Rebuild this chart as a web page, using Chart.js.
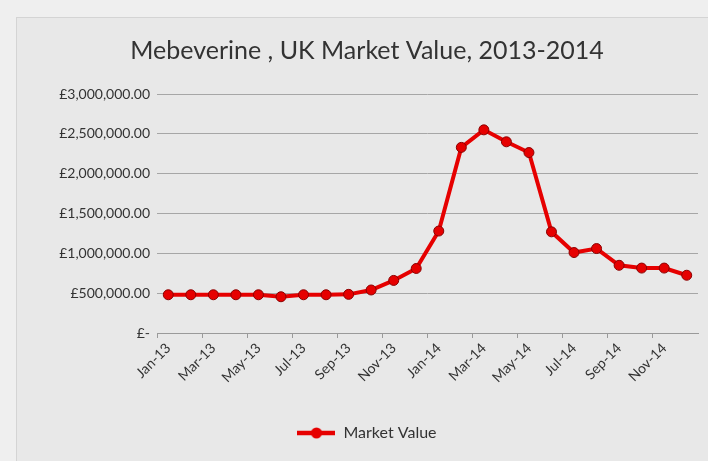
<!DOCTYPE html>
<html>
<head>
<meta charset="utf-8">
<script src="https://cdn.jsdelivr.net/npm/chart.js@4/dist/chart.umd.min.js"></script>
<style>
  html, body { margin: 0; padding: 0; background: #efefef; }
  #frame {
    position: absolute; left: 16px; top: 17px; width: 700px; height: 460px;
    background: #e8e8e8; border: 1px solid #d4d4d4;
  }
  #wrap { position: absolute; left: 0; top: 0; width: 708px; height: 461px; }
</style>
</head>
<body>
<div id="frame"></div>
<div id="wrap"><canvas id="myChart" width="708" height="461"></canvas></div>
<script>
let months = ["Jan-13", "Feb-13", "Mar-13", "Apr-13", "May-13", "Jun-13", "Jul-13", "Aug-13", "Sep-13", "Oct-13", "Nov-13", "Dec-13",
              "Jan-14", "Feb-14", "Mar-14", "Apr-14", "May-14", "Jun-14", "Jul-14", "Aug-14", "Sep-14", "Oct-14", "Nov-14", "Dec-14"];
let marketValue = [480000, 480000, 480000, 480000, 480000, 455000, 480000, 480000, 485000, 540000, 660000, 810000,
                   1280000, 2330000, 2550000, 2400000, 2265000, 1270000, 1010000, 1060000, 850000, 815000, 815000, 725000];
let yTicks = [0, 500000, 1000000, 1500000, 2000000, 2500000, 3000000];

const font = 'Lato, "Open Sans", sans-serif';
const red = '#e60000';

// legend marker: line with a dot
let marker = document.createElement('canvas');
marker.width = 38; marker.height = 12;
let mctx = marker.getContext('2d');
mctx.strokeStyle = red; mctx.lineWidth = 4.5;
mctx.beginPath(); mctx.moveTo(0, 6); mctx.lineTo(38, 6); mctx.stroke();
mctx.fillStyle = red;
mctx.beginPath(); mctx.arc(19, 6, 5.5, 0, Math.PI * 2); mctx.fill();

function money(v) {
    if (v === 0) return '£-';
    return '£' + v.toLocaleString('en-GB', {minimumFractionDigits: 2, maximumFractionDigits: 2});
}

let ctx = document.getElementById('myChart');
let myChart = new Chart(ctx, {
    type: 'line',
    data: {
        labels: months,
        datasets: [{
            label: 'Market Value',
            data: marketValue,
            borderColor: red,
            backgroundColor: red,
            borderWidth: 4,
            tension: 0,
            pointRadius: 5,
            pointBackgroundColor: red,
            pointBorderColor: '#8a0000',
            pointBorderWidth: 1
        }]
    },
    options: {
        responsive: false,
        animation: false,
        layout: { padding: { left: 36, right: 10, top: 0, bottom: 10 } },
        plugins: {
            title: {
                display: true,
                text: 'Mebeverine , UK Market Value, 2013-2014',
                color: '#333333',
                font: { family: font, size: 25, weight: 'normal' },
                padding: { top: 36, bottom: 28 }
            },
            legend: {
                position: 'bottom',
                labels: {
                    usePointStyle: true,
                    pointStyle: marker,
                    pointStyleWidth: 38,
                    color: '#333333',
                    font: { family: font, size: 16 }
                }
            },
            tooltip: { enabled: false }
        },
        scales: {
            x: {
                offset: true,
                grid: {
                    offset: true,
                    drawOnChartArea: false,
                    drawTicks: true,
                    tickLength: 5,
                    color: c => (c.index % 2 === 0 ? '#9a9a9a' : 'rgba(0,0,0,0)')
                },
                border: { color: '#9a9a9a', width: 1 },
                ticks: {
                    autoSkip: false,
                    maxRotation: 45,
                    minRotation: 45,
                    padding: 2,
                    color: '#333333',
                    font: { family: font, size: 14 },
                    callback: function(val, i) { return i % 2 === 0 ? this.getLabelForValue(val) : ''; }
                },
                afterFit: s => { s.height = 82; }
            },
            y: {
                min: 0,
                max: 3000000,
                afterBuildTicks: s => { s.ticks = yTicks.map(v => ({value: v})); },
                grid: { color: '#a6a6a6', lineWidth: 1, drawTicks: false },
                border: { display: false },
                ticks: {
                    padding: 7,
                    color: '#333333',
                    font: { family: font, size: 14 },
                    callback: v => money(v)
                },
                afterFit: s => { s.width = 121; }
            }
        }
    }
});
</script>
</body>
</html>
